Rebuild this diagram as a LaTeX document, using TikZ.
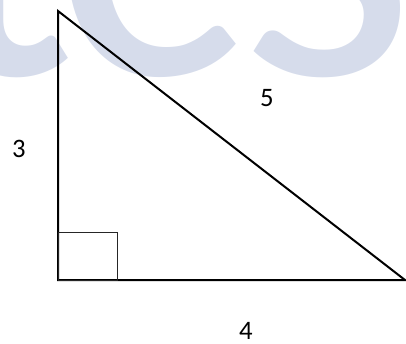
\documentclass[tikz,border=0pt]{standalone}
\usepackage{fontspec}
\setmainfont{Carlito}
\usepackage{tikz}
\usetikzlibrary{positioning}
\definecolor{wmark}{RGB}{214,220,235}

\begin{document}
\begin{tikzpicture}[
    x=0.75pt, y=-0.75pt,
    side/.style={line width=1.5pt},
    corner/.style={line width=0.75pt, draw=black!85},
    lbl/.style={inner sep=0pt, font=\fontsize{20}{20}\selectfont},
    wm/.style={text=wmark, inner sep=0pt, anchor=base west, font=\fontsize{340}{340}\selectfont}
]
\useasboundingbox (0,0) rectangle (406,343);

% Watermark
\begin{scope}
\clip (0,0) rectangle (406,343);
\node[wm] (wmt) at (-76,74) {t};
\node[wm] (wmc) at (53,74) {c};
\node[wm] (wms) at (238,74) {s};
\end{scope}

% Triangle
\coordinate (top) at (58,11);
\coordinate (rgt) at (58,280);
\coordinate (end) at (405,280);
\draw[side] (top) -- (rgt) -- (end) -- cycle;
\draw[corner] (58,232) rectangle (117,280);

% Side lengths
\node[lbl] (three) at (19,149) {3};
\node[lbl] (five) at (267,98) {5};
\node[lbl] (four) at (246,331) {4};

\end{tikzpicture}
\end{document}
